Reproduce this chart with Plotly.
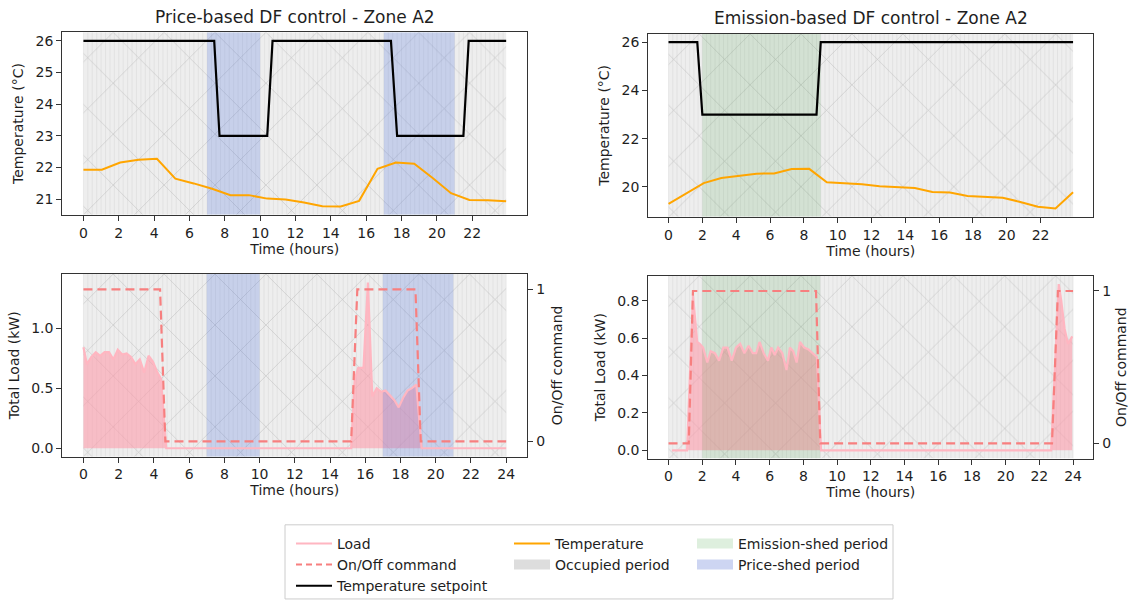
import plotly.graph_objects as go
import numpy as np

# ---------------- data ----------------
hours_hourly = [0, 1.04, 2.08, 3.12, 4.16, 5.2, 6.24, 7.28, 8.32, 9.36, 10.4, 11.44,
                12.48, 13.52, 14.56, 15.6, 16.64, 17.68, 18.72, 19.76, 20.8, 21.84, 22.88, 23.92]
price_temp = [21.93, 21.93, 22.16, 22.25, 22.28, 21.65, 21.50, 21.33, 21.13, 21.13, 21.02, 20.99,
              20.90, 20.78, 20.77, 20.95, 21.96, 22.16, 22.12, 21.67, 21.19, 20.98, 20.97, 20.94]
emis_temp = [19.30, 19.73, 20.16, 20.37, 20.47, 20.55, 20.56, 20.74, 20.75, 20.19, 20.15, 20.11,
             20.03, 19.99, 19.96, 19.79, 19.77, 19.63, 19.59, 19.55, 19.38, 19.18, 19.11, 19.78]

price_sp_t = [0, 7.4, 7.7, 10.4, 10.7, 17.4, 17.75, 21.5, 21.8, 23.92]
price_sp = [26, 26, 23, 23, 26, 26, 23, 23, 26, 26]
emis_sp_t = [0, 1.7, 2.0, 8.75, 9.0, 23.92]
emis_sp = [26, 26, 23, 23, 26, 26]

price_load_t = [0, 0.2, 0.45, 0.7, 0.95, 1.2, 1.45, 1.7, 1.95, 2.2, 2.45, 2.7, 2.95, 3.2, 3.45,
                3.7, 3.95, 4.2, 4.4, 4.7, 15.2, 15.4, 15.6, 15.9, 16.15, 16.4, 16.65, 16.9,
                17.15, 17.4, 17.65, 17.9, 18.15, 18.4, 18.65, 18.9, 19.2, 24]
price_load = [0.84, 0.70, 0.76, 0.80, 0.77, 0.80, 0.80, 0.74, 0.82, 0.78, 0.79, 0.76, 0.70, 0.74,
              0.63, 0.77, 0.72, 0.63, 0.58, 0.0, 0.0, 0.57, 0.67, 0.67, 1.38, 0.43, 0.50, 0.47,
              0.48, 0.44, 0.40, 0.34, 0.42, 0.48, 0.50, 0.53, 0.0, 0.0]
price_cmd_t = [0, 4.35, 4.65, 15.2, 15.55, 18.85, 19.15, 24]
price_cmd = [1, 1, 0, 0, 1, 1, 0, 0]

emis_load_t = [0.2, 1.1, 1.45, 1.7, 1.85, 2.05, 2.3, 2.5, 2.75, 3.0, 3.25, 3.5, 3.75, 4.0, 4.25,
               4.5, 4.75, 5.0, 5.2, 5.4, 5.65, 5.9, 6.1, 6.3, 6.5, 6.75, 7.0, 7.2, 7.4, 7.6,
               7.8, 8.05, 8.3, 8.55, 8.8, 9.05, 22.7, 23.15, 23.3, 23.5, 23.7, 23.95]
emis_load = [0.0, 0.0, 0.83, 0.58, 0.57, 0.55, 0.47, 0.53, 0.52, 0.48, 0.55, 0.55, 0.48, 0.55,
             0.57, 0.52, 0.56, 0.52, 0.52, 0.58, 0.52, 0.48, 0.55, 0.51, 0.55, 0.52, 0.43, 0.55,
             0.53, 0.47, 0.58, 0.55, 0.54, 0.52, 0.50, 0.0, 0.0, 0.89, 0.80, 0.65, 0.57, 0.61]
emis_cmd_t = [0, 1.2, 1.45, 8.75, 9.0, 22.75, 23.1, 24]
emis_cmd = [0, 0, 1, 1, 0, 0, 1, 1]

price_shed_periods = [(7, 10), (17, 21)]
emission_shed_periods = [(2, 9)]
occupied_top = (0, 23.92)
occupied_bottom = (0, 24)

top_xticks = list(range(0, 23, 2))
bottom_xticks = list(range(0, 25, 2))

# ---------------- styling ----------------
FONT = "DejaVu Sans"
FS = 14
W, H = 1129, 602
C_LOAD = "#ffb6c1"
C_LOAD_FILL = "rgba(255,150,165,0.55)"
C_CMD = "#f77f7f"
C_TEMP = "#ffa500"
C_SP = "#000000"
C_OCC = "#eeeeee"
C_PRICE = "rgba(65,105,225,0.22)"
C_EMIS = "rgba(0,128,0,0.11)"
TXT = "#1e1e1e"


def dx(p):
    return p / W


def dy(p):
    return 1 - p / H


def rect_path(periods, y0, y1):
    xs, ys = [], []
    for a, b in periods:
        xs += [a, b, b, a, a, None]
        ys += [y0, y0, y1, y1, y0, None]
    return xs, ys


fig = go.Figure()

R = {
    "tl": [20.51, 26.27],
    "tr": [18.765, 26.345],
    "bl": [-0.07, 1.45],
    "br": [-0.0445, 0.9345],
}
CMD_RANGE = [-0.1, 1.1]
XR_TOP = [-1.196, 25.116]
XR_BOT = [-1.2, 25.2]


def add_occupied(xa, ya, period, yr):
    xs, ys = rect_path([period], yr[0], yr[1])
    fig.add_trace(go.Scatter(
        x=xs, y=ys, xaxis=xa, yaxis=ya, mode="lines", fill="toself",
        fillcolor=C_OCC, line=dict(width=0), showlegend=False, hoverinfo="skip",
        fillpattern=dict(shape="x", size=36, solidity=0.03,
                         fgcolor="rgba(150,150,150,0.55)", bgcolor=C_OCC, fillmode="replace")))
    seams = np.arange(period[0], period[1] + 1e-9, 0.25)
    vx, vy = [], []
    for s in seams:
        vx += [s, s, None]
        vy += [yr[0], yr[1], None]
    fig.add_trace(go.Scatter(x=vx, y=vy, xaxis=xa, yaxis=ya, mode="lines",
                             line=dict(color="rgba(185,185,185,0.3)", width=0.7),
                             showlegend=False, hoverinfo="skip"))


def add_shed(xa, ya, periods, color, yr):
    xs, ys = rect_path(periods, yr[0], yr[1])
    fig.add_trace(go.Scatter(x=xs, y=ys, xaxis=xa, yaxis=ya, mode="lines", fill="toself",
                             fillcolor=color, line=dict(width=0), showlegend=False,
                             hoverinfo="skip"))


# ---- top-left: price temperature ----
add_occupied("x", "y", occupied_top, R["tl"])
add_shed("x", "y", price_shed_periods, C_PRICE, R["tl"])
fig.add_trace(go.Scatter(x=price_sp_t, y=price_sp, xaxis="x", yaxis="y", mode="lines",
                         line=dict(color=C_SP, width=2.2), showlegend=False))
fig.add_trace(go.Scatter(x=hours_hourly, y=price_temp, xaxis="x", yaxis="y", mode="lines",
                         line=dict(color=C_TEMP, width=2), showlegend=False))

# ---- top-right: emission temperature ----
add_occupied("x2", "y2", occupied_top, R["tr"])
add_shed("x2", "y2", emission_shed_periods, C_EMIS, R["tr"])
fig.add_trace(go.Scatter(x=emis_sp_t, y=emis_sp, xaxis="x2", yaxis="y2", mode="lines",
                         line=dict(color=C_SP, width=2.2), showlegend=False))
fig.add_trace(go.Scatter(x=hours_hourly, y=emis_temp, xaxis="x2", yaxis="y2", mode="lines",
                         line=dict(color=C_TEMP, width=2), showlegend=False))

# ---- bottom-left: price load ----
add_occupied("x3", "y3", occupied_bottom, R["bl"])
fig.add_trace(go.Scatter(x=price_load_t, y=price_load, xaxis="x3", yaxis="y3", mode="lines",
                         fill="tozeroy", fillcolor=C_LOAD_FILL, line=dict(width=0),
                         showlegend=False, hoverinfo="skip"))
add_shed("x3", "y3", price_shed_periods, C_PRICE, R["bl"])
fig.add_trace(go.Scatter(x=price_load_t, y=price_load, xaxis="x3", yaxis="y3", mode="lines",
                         line=dict(color=C_LOAD, width=2.2), showlegend=False))
fig.add_trace(go.Scatter(x=price_cmd_t, y=price_cmd, xaxis="x3", yaxis="y4", mode="lines",
                         line=dict(color=C_CMD, width=2.2, dash="9px,5px"), showlegend=False))

# ---- bottom-right: emission load ----
add_occupied("x4", "y5", occupied_bottom, R["br"])
fig.add_trace(go.Scatter(x=emis_load_t, y=emis_load, xaxis="x4", yaxis="y5", mode="lines",
                         fill="tozeroy", fillcolor=C_LOAD_FILL, line=dict(width=0),
                         showlegend=False, hoverinfo="skip"))
add_shed("x4", "y5", emission_shed_periods, C_EMIS, R["br"])
fig.add_trace(go.Scatter(x=emis_load_t, y=emis_load, xaxis="x4", yaxis="y5", mode="lines",
                         line=dict(color=C_LOAD, width=2.2), showlegend=False))
fig.add_trace(go.Scatter(x=emis_cmd_t, y=emis_cmd, xaxis="x4", yaxis="y6", mode="lines",
                         line=dict(color=C_CMD, width=2.2, dash="9px,5px"), showlegend=False))


# ---- legend entries (three columns) ----
def leg_line(name, color, legend, dash=None, width=2):
    fig.add_trace(go.Scatter(x=[None], y=[None], mode="lines", name=name, legend=legend,
                             line=dict(color=color, width=width, dash=dash)))


leg_line("Load", C_LOAD, "legend")
leg_line("On/Off command", C_CMD, "legend", dash="6px,4px")
leg_line("Temperature setpoint", C_SP, "legend")
leg_line("Temperature", C_TEMP, "legend2")
leg_line("Occupied period", "#dddddd", "legend2", width=12)
leg_line("Emission-shed period", "#deefde", "legend3", width=12)
leg_line("Price-shed period", "#cdd5f2", "legend3", width=12)


# ---------------- layout ----------------
def xaxis(dom, rng, ticks, anchor):
    return dict(domain=[dx(dom[0]), dx(dom[1])], range=rng, tickvals=ticks, anchor=anchor,
                showline=True, linecolor="#333", linewidth=1.1, mirror=True,
                ticks="outside", ticklen=5, tickcolor="#333", showgrid=False, zeroline=False,
                tickfont=dict(family=FONT, size=FS, color=TXT),
                title=dict(text="Time (hours)", font=dict(family=FONT, size=FS, color=TXT),
                           standoff=3))


def yaxis(dom, rng, ticks, anchor, title, fmt=None, side="left", overlaying=None, standoff=8):
    d = dict(domain=[dy(dom[1]), dy(dom[0])], range=rng, tickvals=ticks, anchor=anchor,
             showline=True, linecolor="#333", linewidth=1.1, mirror=True, side=side,
             ticks="outside", ticklen=5, tickcolor="#333", showgrid=False, zeroline=False,
             tickfont=dict(family=FONT, size=FS, color=TXT),
             title=dict(text=title, font=dict(family=FONT, size=FS, color=TXT),
                        standoff=standoff))
    if fmt:
        d["tickformat"] = fmt
    if overlaying:
        d["overlaying"] = overlaying
    return d


TL = dict(x=(62.3, 527.3), y=(32.7, 217.3))
TR = dict(x=(648.3, 1093.3), y=(34.3, 219.3))
BL = dict(x=(62.3, 527.3), y=(277.3, 462.0))
BR = dict(x=(648.3, 1093.3), y=(279.0, 464.0))

legend_common = dict(xanchor="left", yanchor="top", bgcolor="rgba(0,0,0,0)", borderwidth=0,
                     font=dict(family=FONT, size=FS, color=TXT), tracegroupgap=0,
                     orientation="v", itemclick=False, itemwidth=36)

fig.update_layout(
    width=W, height=H, margin=dict(l=0, r=0, t=0, b=0),
    paper_bgcolor="white", plot_bgcolor="white",
    font=dict(family=FONT, size=FS, color=TXT),
    xaxis=xaxis(TL["x"], XR_TOP, top_xticks, "y"),
    yaxis=yaxis(TL["y"], R["tl"], [21, 22, 23, 24, 25, 26], "x", "Temperature (°C)"),
    xaxis2=xaxis(TR["x"], XR_TOP, top_xticks, "y2"),
    yaxis2=yaxis(TR["y"], R["tr"], [20, 22, 24, 26], "x2", "Temperature (°C)"),
    xaxis3=xaxis(BL["x"], XR_BOT, bottom_xticks, "y3"),
    yaxis3=yaxis(BL["y"], R["bl"], [0, 0.5, 1.0], "x3", "Total Load (kW)", fmt=".1f"),
    yaxis4=yaxis(BL["y"], CMD_RANGE, [0, 1], "x3", "On/Off command", side="right",
                 overlaying="y3"),
    xaxis4=xaxis(BR["x"], XR_BOT, bottom_xticks, "y5"),
    yaxis5=yaxis(BR["y"], R["br"], [0, 0.2, 0.4, 0.6, 0.8], "x4", "Total Load (kW)", fmt=".1f"),
    yaxis6=yaxis(BR["y"], CMD_RANGE, [0, 1], "x4", "On/Off command", side="right",
                 overlaying="y5"),
    legend=dict(x=dx(291), y=dy(534), **legend_common),
    legend2=dict(x=dx(509), y=dy(534), **legend_common),
    legend3=dict(x=dx(692), y=dy(534), **legend_common),
    shapes=[dict(type="rect", xref="paper", yref="paper", x0=dx(285), x1=dx(893),
                 y0=dy(606), y1=dy(531), line=dict(color="#cccccc", width=1),
                 fillcolor="white", layer="below")],
    annotations=[
        dict(text="Price-based DF control - Zone A2", xref="paper", yref="paper",
             x=dx((TL["x"][0] + TL["x"][1]) / 2), y=dy(17), xanchor="center", yanchor="middle",
             showarrow=False, font=dict(family=FONT, size=17, color=TXT)),
        dict(text="Emission-based DF control - Zone A2", xref="paper", yref="paper",
             x=dx((TR["x"][0] + TR["x"][1]) / 2), y=dy(18), xanchor="center", yanchor="middle",
             showarrow=False, font=dict(family=FONT, size=17, color=TXT)),
    ],
)

fig.write_html("out.html", post_script="document.body.style.margin='0';",
               config={"displayModeBar": False})
